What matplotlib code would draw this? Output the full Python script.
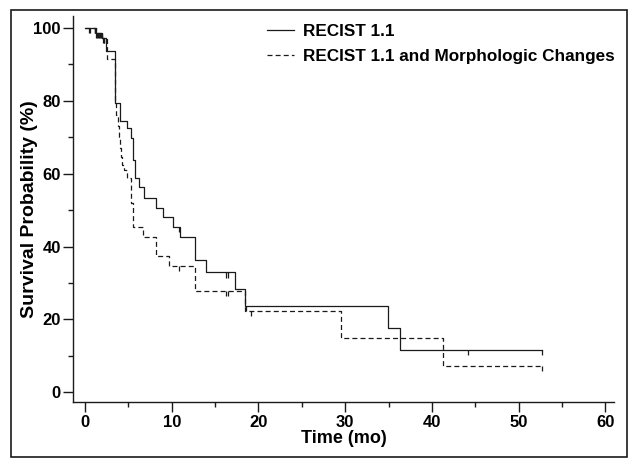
import matplotlib
matplotlib.use('Agg')
import matplotlib.pyplot as plt
from matplotlib.patches import Rectangle
import numpy as np

plt.rcParams['font.family'] = ['Liberation Sans', 'DejaVu Sans']
plt.rcParams['font.weight'] = 'bold'

# step curves (time in months, survival in %)
recist_t = [0, 1.3, 2.0, 2.4, 3.4, 3.45, 3.5, 4.05, 4.8, 5.35, 5.55, 5.8, 6.2,
            6.85, 8.15, 9.0, 10.2, 11.0, 12.7, 14.0, 17.3, 18.5, 34.9, 36.3, 52.7]
recist_s = [100, 98.6, 97.2, 93.8, 88.0, 84.0, 79.4, 74.5, 72.5, 69.7, 63.8, 58.7, 56.4,
            53.4, 50.7, 48.2, 45.5, 42.6, 36.2, 32.9, 28.4, 23.7, 17.7, 11.6, 11.6]
recist_cens = [0.5, 1.1, 1.2, 1.4, 1.6, 1.7, 1.8, 2.1, 2.2, 10.8, 16.3, 16.5, 18.6, 44.2, 52.7]

morph_t = [0, 1.3, 2.0, 2.5, 3.4, 3.5, 3.6, 3.8, 3.9, 4.0, 4.2, 4.3, 4.5, 4.8,
           5.3, 5.5, 6.7, 8.15, 9.7, 12.7, 18.5, 29.5, 41.3, 52.7]
morph_s = [100, 98.6, 97.2, 91.4, 85.0, 80.0, 76.0, 73.0, 70.0, 67.0, 64.5, 62.5, 61.0, 58.7,
           52.0, 45.5, 42.7, 37.4, 34.7, 27.7, 22.4, 14.8, 7.3, 7.3]
morph_cens = [0.6, 1.2, 1.3, 1.5, 1.9, 2.2, 10.8, 16.3, 16.5, 19.1, 52.7]

ink = '#1a1a1a'

fig = plt.figure(figsize=(6.36, 4.69), dpi=100)
ax = fig.add_axes([0.1153, 0.1422, 0.85, 0.8237])


def draw_km(ax, t, s, cens, ls, label):
    ax.step(t, s, where='post', color=ink, lw=0.9, ls=ls, label=label)
    # censor ticks hang below the curve
    lev = np.array(s)[np.searchsorted(t, cens, side='right') - 1]
    ax.vlines(cens, lev - 1.4, lev, color=ink, lw=0.9)


draw_km(ax, recist_t, recist_s, recist_cens, '-', 'RECIST 1.1')
draw_km(ax, morph_t, morph_s, morph_cens, (0, (4, 2.5)), 'RECIST 1.1 and Morphologic Changes')

ax.set_xlim(-1.35, 61.0)
ax.set_ylim(-2.75, 103.3)
ax.set_xticks(range(0, 61, 10))
ax.set_xticks(range(5, 60, 10), minor=True)
ax.set_yticks(range(0, 101, 20))
ax.set_yticks(range(10, 100, 20), minor=True)
for side in ('top', 'right'):
    ax.spines[side].set_visible(False)
for side in ('left', 'bottom'):
    ax.spines[side].set_linewidth(1.0)
    ax.spines[side].set_color(ink)
ax.tick_params(which='major', length=7, width=1.0, color=ink, labelsize=12, pad=2)
ax.tick_params(which='minor', length=3.5, width=1.0, color=ink)

ax.set_xlabel('Time (mo)', fontsize=13, fontweight='bold', labelpad=0)
ax.set_ylabel('Survival Probability (%)', fontsize=14, fontweight='bold')
ax.yaxis.set_label_coords(-0.066, 0.5)

leg = ax.legend(loc='upper left', bbox_to_anchor=(0.358, 0.98), frameon=False,
                fontsize=12.3, handlelength=1.6, handletextpad=0.5, labelspacing=0.6,
                borderaxespad=0, borderpad=0)
for txt in leg.get_texts():
    txt.set_fontweight('bold')

fig.patches.append(Rectangle((0.0168, 0.0256), 0.969, 0.953, transform=fig.transFigure,
                             fill=False, edgecolor=ink, lw=1.2))

fig.savefig('out.png', dpi=100)
